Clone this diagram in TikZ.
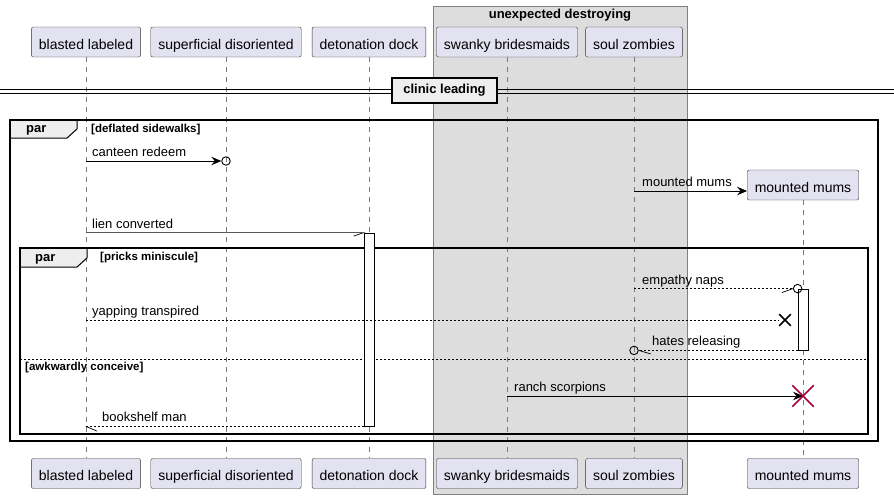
\documentclass[tikz,border=0pt]{standalone}
\usepackage{fontspec}
\setmainfont{Liberation Sans}
\usetikzlibrary{arrows.meta,positioning,shapes.misc}
\definecolor{partfill}{HTML}{E2E2F0}
\definecolor{boxfill}{HTML}{DDDDDD}
\definecolor{tabfill}{HTML}{EEEEEE}
\definecolor{killred}{HTML}{A80036}
\definecolor{lifegray}{HTML}{7A7A7A}

\begin{document}
\begin{tikzpicture}[x=1pt,y=-1pt,
    part/.style={draw=black!80,fill=partfill,rounded corners=2pt,minimum height=30pt,inner xsep=7.5pt,
        text height=15pt,text depth=1pt,font=\fontsize{14}{16}\selectfont},
    life/.style={draw=lifegray,line width=0.6pt,dash pattern=on 5pt off 5pt},
    msg/.style={line width=0.8pt,-{Stealth[length=10pt,width=8.5pt,inset=3.5pt]}},
    dmsg/.style={line width=0.7pt,dash pattern=on 2pt off 2pt},
    barb/.style={line width=0.7pt},
    lbl/.style={anchor=base west,inner sep=0pt,font=\fontsize{13}{15}\selectfont},
    grp/.style={anchor=west,inner sep=0pt,font=\fontsize{11.5}{13}\selectfont\bfseries},
    tabtxt/.style={anchor=west,inner sep=0pt,font=\fontsize{13}{15}\selectfont\bfseries},
    frame/.style={line width=1.5pt},
    tab/.style={fill=tabfill,line width=1pt},
    actbar/.style={draw,fill=white,line width=0.8pt,minimum width=10pt,inner sep=0pt},
    endo/.style={circle,draw,line width=0.9pt,minimum size=8.5pt,inner sep=0pt},
    xmark/.style={cross out,draw,line width=1.6pt,minimum size=10pt,inner sep=0pt}]
    \useasboundingbox (0,0) rectangle (894,499);

    \draw[draw=gray,fill=boxfill] (433,6) rectangle (687,494);
    \node[font=\fontsize{13}{15}\selectfont\bfseries] (ud) at (560,15) {unexpected destroying};

    \node[part] (bl) at (86,42) {blasted labeled};
    \node[part] (sd) at (226,42) {superficial disoriented};
    \node[part] (dd) at (369,42) {detonation dock};
    \node[part] (sw) at (507,42) {swanky bridesmaids};
    \node[part] (sz) at (634,42) {soul zombies};
    \node[part] (mm) at (803,185) {mounted mums};
    \node[part] (bl2) at (86,473.5) {blasted labeled};
    \node[part] (sd2) at (226,473.5) {superficial disoriented};
    \node[part] (dd2) at (369,473.5) {detonation dock};
    \node[part] (sw2) at (507,473.5) {swanky bridesmaids};
    \node[part] (sz2) at (634,473.5) {soul zombies};
    \node[part] (mm2) at (803,473.5) {mounted mums};

    \draw[life] (bl) -- (bl2);
    \draw[life] (sd) -- (sd2);
    \draw[life] (dd) -- (dd2);
    \draw[life] (sw) -- (sw2);
    \draw[life] (sz) -- (sz2);
    \draw[life] (mm) -- (mm2);

    \draw (0,89) -- (894,89);
    \draw (0,93) -- (894,93);
    \node[draw,fill=tabfill,line width=1.5pt,minimum width=105pt,minimum height=25pt,inner sep=0pt,
        font=\fontsize{13}{15}\selectfont\bfseries] (cl) at (444.5,90.5) {clinic leading};

    \draw[tab] (10,120) -- (77,120) -- (77,129) -- (67,138) -- (10,138) -- cycle;
    \draw[frame] (10,120) rectangle (878,441);
    \node[tabtxt] (par1) at (26,130.5) {par};
    \node[grp] (g1) at (91,130) {[deflated sidewalks]};

    \draw[tab] (20,248) -- (87,248) -- (87,258) -- (77,267) -- (20,267) -- cycle;
    \draw[frame] (20,248) rectangle (868,434);
    \node[tabtxt] (par2) at (35,259) {par};
    \node[grp] (g2) at (100,258) {[pricks miniscule]};
    \draw[dmsg] (20,359) -- (868,359);
    \node[grp] (g3) at (25,367.5) {[awkwardly conceive]};

    \node[actbar,minimum height=193pt] (a1) at (369,329.5) {};
    \node[actbar,minimum height=61pt] (a2) at (803,319.5) {};

    \node[endo] (o1) at (sd |- 0,161) {};
    \draw[msg] (bl |- o1) -- (o1.west);
    \node[lbl] (t1) at (92,156.5) {canteen redeem};

    \draw[msg] (sz |- 0,191) -- (mm.west |- 0,191);
    \node[lbl] (t2) at (642,186.5) {mounted mums};

    \draw[barb] (bl |- a1.north) -- (a1.north west) -- ++(-10,3.5);
    \node[lbl] (t3) at (92,228.5) {lien converted};

    \node[endo] (o2) at (a2.north west) {};
    \draw[dmsg] (sz |- o2) -- (o2.west);
    \draw[barb] (o2.west) -- ++(-11,4);
    \node[lbl] (t4) at (642,284.5) {empathy naps};

    \node[xmark] (yx) at (785,320) {};
    \draw[dmsg] (bl |- yx) -- (yx.west);
    \node[lbl] (t5) at (92,315) {yapping transpired};

    \node[endo] (o3) at (sz |- a2.south) {};
    \draw[dmsg] (a2.south west) -- (o3.east);
    \draw[barb] (o3.east) -- ++(12,3.5);
    \node[lbl] (t6) at (652,345.5) {hates releasing};

    \draw[msg] (sw |- 0,396) -- (mm |- 0,396);
    \node[xmark,draw=killred,minimum size=20pt,line width=1.5pt] (kx) at (mm |- 0,396) {};
    \node[lbl] (t7) at (514,391.5) {ranch scorpions};

    \draw[dmsg] (a1.south west) -- (bl |- a1.south);
    \draw[barb] (bl |- a1.south) -- ++(11,4.7);
    \node[lbl] (t8) at (102,421.5) {bookshelf man};
\end{tikzpicture}
\end{document}
